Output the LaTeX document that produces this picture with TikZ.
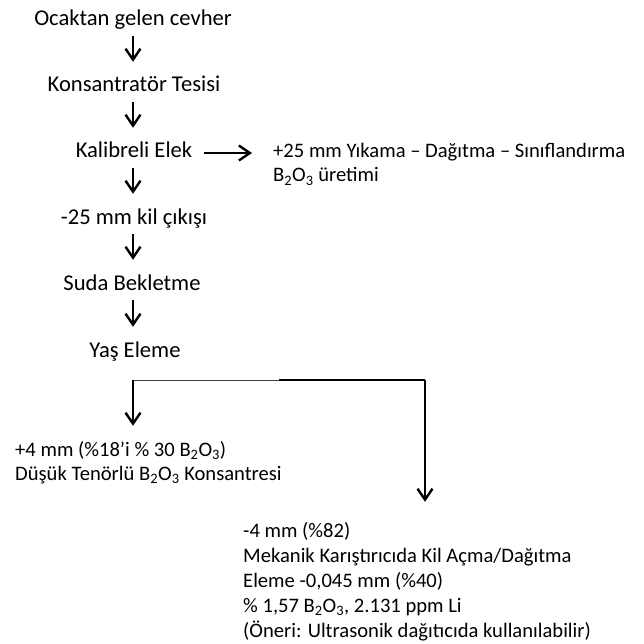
\documentclass[tikz,border=0pt]{standalone}
\usepackage{fontspec}
\setmainfont{Carlito}
\usetikzlibrary{arrows.meta}
\newcommand{\boron}{B\textsubscript{2}O\textsubscript{3}}

\begin{document}
\begin{tikzpicture}[x=1pt,y=-1pt,
  lbl/.style={inner sep=0pt,text height=15pt,text depth=5pt},
  mid/.style={lbl,anchor=base,font=\fontsize{22.6}{25}\selectfont},
  lft/.style={lbl,anchor=base west,font=\fontsize{20.6}{25}\selectfont},
  arr/.style={line width=2.4pt,-{Straight Barb[length=11pt,width=15pt]},shorten <=5pt,shorten >=15pt}]
\useasboundingbox (0,0) rectangle (644,644);
% main line
\node[mid] (ocak) at (133,26) {Ocaktan gelen cevher};
\node[mid] (kons) at (134,92) {Konsantratör Tesisi};
\node[mid] (elek) at (134,158) {Kalibreli Elek};
\node[mid] (kil) at (134,224) {-25 mm kil çıkışı};
\node[mid] (suda) at (132,290) {Suda Bekletme};
\node[mid] (yas) at (135,357) {Yaş Eleme};
% side product
\node[lft] (yikama) at (273,158) {+25 mm Yıkama – Dağıtma – Sınıflandırma};
\node[lft] (uretim) at (273,182) {\boron{} üretimi};
% +4 mm
\node[lft] (iri1) at (15,456) {+4 mm (\%18’i \% 30 \boron)};
\node[lft] (iri2) at (15,480) {Düşük Tenörlü \boron{} Konsantresi};
% -4 mm
\node[lft] (ince1) at (243,537) {-4 mm (\%82)};
\node[lft] (ince2) at (243,562) {Mekanik Karıştırıcıda Kil Açma/Dağıtma};
\node[lft] (ince3) at (243,587) {Eleme -0,045 mm (\%40)};
\node[lft] (ince4) at (243,612) {\% 1,57 \boron, 2.131 ppm Li};
\node[lft] (ince5) at (243,637) {(Öneri: Ultrasonik dağıtıcıda kullanılabilir)};
\draw[arr] (ocak.south -| 133,0) -- (kons.north -| 133,0);
\draw[arr] (kons.south -| 133,0) -- (elek.north -| 133,0);
\draw[arr] (elek.south -| 133,0) -- (kil.north -| 133,0);
\draw[arr] (kil.south -| 133,0) -- (suda.north -| 133,0);
\draw[arr] (suda.south -| 133,0) -- (yas.north -| 133,0);
\draw[arr,shorten <=12pt,shorten >=21pt] (elek) -- (yikama);
% branch
\coordinate (split) at (133,380);
\coordinate (knee) at (279,380);
\coordinate (corner) at (425,380);
\draw[line width=1pt,black!75] (split) -- (knee);
\draw[line width=1.7pt] (knee) -- (corner);
\draw[arr,shorten <=0pt] (split) -- (split |- iri1.north);
\draw[arr,shorten <=0pt,shorten >=20pt] (corner) -- (corner |- ince1.north);
\end{tikzpicture}
\end{document}
